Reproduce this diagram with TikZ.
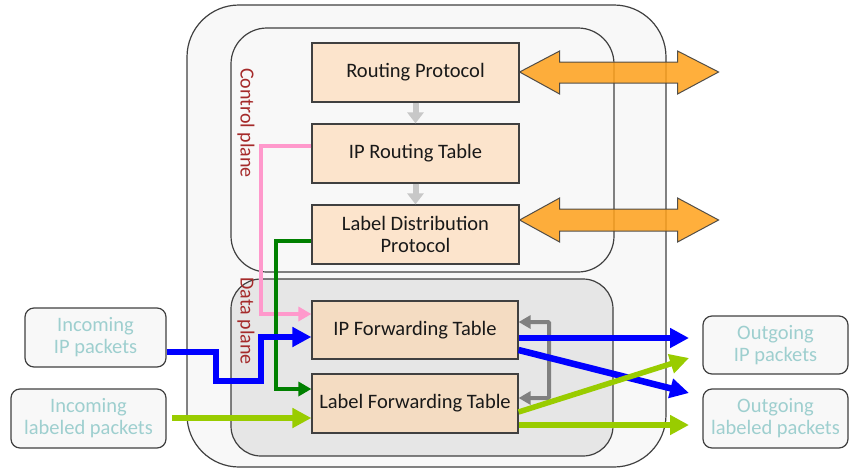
\documentclass[tikz,border=0pt]{standalone}
\usepackage{fontspec}
\setmainfont{Carlito}
\usetikzlibrary{arrows.meta}
\definecolor{boxfill}{HTML}{FCE4CC}
\definecolor{boxfilld}{HTML}{F4DCC2}
\definecolor{edge}{HTML}{404040}
\definecolor{panel}{HTML}{F8F8F8}
\definecolor{dpanel}{HTML}{E6E6E6}
\definecolor{pkttext}{HTML}{9ECFCF}
\definecolor{planered}{HTML}{A52A2A}
\definecolor{pinkc}{HTML}{FF99CC}
\definecolor{dgreen}{HTML}{008000}
\definecolor{lgreen}{HTML}{99CC00}
\definecolor{blueline}{HTML}{0000FF}
\definecolor{grayarr}{HTML}{808080}
\definecolor{lgrayarr}{HTML}{C8C8C8}
\definecolor{orangec}{HTML}{FFA11A}
\tikzset{
  tbox/.style={draw=edge, line width=1.2pt, fill=boxfill, minimum width=207, minimum height=59, inner sep=2pt, align=center, font=\fontsize{20.5}{22}\selectfont, text=black!90},
  pkt/.style={draw=edge, line width=1.2pt, fill=panel, rounded corners=9pt, align=center, font=\fontsize{20.5}{22}\selectfont, text=pkttext, inner sep=2pt},
  planelbl/.style={rotate=-90, text=planered, font=\fontsize{20}{22}\selectfont, inner sep=0pt},
  smallgray/.style={lgrayarr, line width=6pt, -{Triangle[length=11pt,width=16pt]}},
  pinkline/.style={pinkc, line width=4pt, -{Triangle[length=13pt,width=14pt]}},
  greenline/.style={dgreen, line width=4pt, -{Triangle[length=13pt,width=14pt]}},
  blueflow/.style={blueline, line width=6.5pt, -{Triangle[length=19pt,width=19pt]}},
  lgreenflow/.style={lgreen, line width=5.5pt, -{Triangle[length=19pt,width=19pt]}},
  grayback/.style={grayarr, line width=4pt, {Triangle[length=12pt,width=13pt]}-{Triangle[length=12pt,width=13pt]}},
  orangearrow/.style={draw=edge, line width=1pt, fill=orangec, fill opacity=0.85, draw opacity=0.9, line join=miter},
}
\begin{document}
\begin{tikzpicture}[x=1pt,y=-1pt]
\useasboundingbox (0,0) rectangle (849,469);
% panels
\draw[edge, line width=1.2pt, fill=panel, rounded corners=52pt] (187,5) rectangle (666,467);
\draw[edge, line width=1.2pt, fill=panel, rounded corners=36pt] (231,28) rectangle (614,272);
\draw[edge, line width=1.2pt, fill=dpanel, rounded corners=30pt] (231,279) rectangle (613,456);
% boxes
\node[tbox] (rp) at (415.5,72.5) {Routing Protocol};
\node[tbox] (iprt) at (415.5,153.5) {IP Routing Table};
\node[tbox] (ldp) at (415.5,234.5) {Label Distribution\\Protocol};
\node[tbox, fill=boxfilld, minimum width=206, minimum height=58] (ipft) at (415,330) {IP Forwarding Table};
\node[tbox, fill=boxfilld, minimum width=206, minimum height=59] (lft) at (415,403.5) {Label Forwarding Table};
% plane labels
\node[planelbl] (cpl) at (246,123) {Control plane};
\node[planelbl] (dpl) at (246,321) {Data plane};
% packet boxes
\node[pkt, minimum width=141, minimum height=59] (inip) at (95.5,337.5) {Incoming\\IP packets};
\node[pkt, minimum width=155, minimum height=59] (inlab) at (88.5,418.5) {Incoming\\labeled packets};
\node[pkt, minimum width=145, minimum height=58] (outip) at (775.5,345) {Outgoing\\IP packets};
\node[pkt, minimum width=145, minimum height=59] (outlab) at (775.5,418.5) {Outgoing\\labeled packets};
% gray vertical arrows
\draw[smallgray] (rp.south) -- (iprt.north);
\draw[smallgray] (iprt.south) -- (ldp.north);
% pink
\draw[pinkline] (iprt.west |- 0,146) -- (261,146) -- (261,314) -- (ipft.west |- 0,314);
% dark green
\draw[greenline] (ldp.west |- 0,241) -- (276,241) -- (276,389) -- (lft.west |- 0,389);
% blue incoming
\draw[blueflow] (inip.east |- 0,352) -- (216,352) -- (216,381) -- (261,381) -- (261,337) -- (ipft.west |- 0,337);
% light green incoming
\coordinate (lgstart) at (172,418);
\draw[lgreenflow] (lgstart) -- (lft.west |- 0,418);
% gray bracket
\draw[grayback, rounded corners=1pt] (ipft.east |- 0,322) -- (549,322) -- (549,398) -- (lft.east |- 0,398);
% outgoing
\coordinate (t1) at (689,338);
\coordinate (t2) at (689,393);
\coordinate (t3) at (689,358);
\coordinate (t4) at (689,425);
\draw[blueflow] (ipft.east |- 0,338) -- (t1);
\draw[blueflow] (ipft.east |- 0,350) -- (t2);
\draw[lgreenflow] (lft.east |- 0,412) -- (t3);
\draw[lgreenflow] (lft.east |- 0,425) -- (t4);
% orange double arrows
\draw[orangearrow] (rp.east |- 0,72) -- ++(40,-21) -- ++(0,11) -- ++(118,0) -- ++(0,-11) -- ++(41,21) -- ++(-41,22) -- ++(0,-11) -- ++(-118,0) -- ++(0,11) -- cycle;
\draw[orangearrow] (ldp.east |- 0,220) -- ++(40,-22) -- ++(0,11) -- ++(118,0) -- ++(0,-11) -- ++(41,22) -- ++(-41,22) -- ++(0,-11) -- ++(-118,0) -- ++(0,11) -- cycle;
\end{tikzpicture}
\end{document}
